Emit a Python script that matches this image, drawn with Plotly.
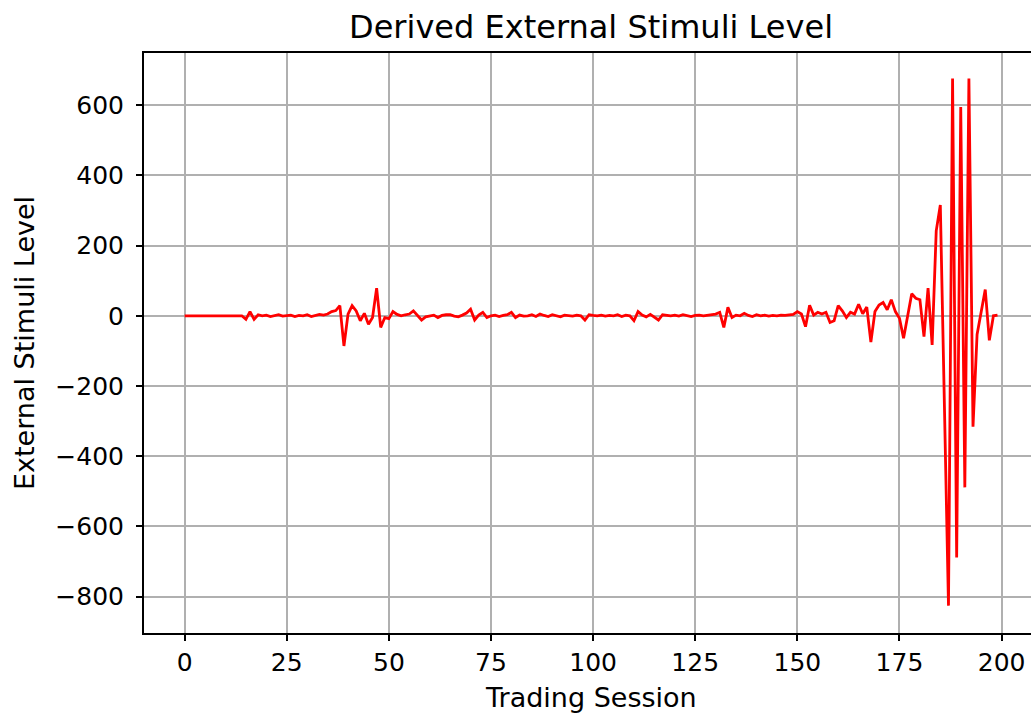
import plotly.graph_objects as go

title_text = "Derived External Stimuli Level"
x_label = "Trading Session"
y_label = "External Stimuli Level"

sessions = list(range(200))

stimuli = [
    0, 0, 0, 0, 0, 0, 0, 0, 0, 0,
    0, 0, 0, 0, 0, -10, 12, -10, 3, 0,
    2, -2, 1, 3, -1, 0, 2, -2, 1, 0,
    3, -2, 1, 4, 2, 5, 12, 15, 29, -86,
    5, 29, 14, -14, 7, -24, -5, 79, -33, -5,
    -8, 12, 4, 0, 3, 5, 14, 2, -12, -3,
    0, 2, -5, 1, 3, 3, -1, -3, 2, 8,
    19, -12, 2, 10, -5, 0, 2, -2, 1, 3,
    10, -5, 2, -1, 0, 3, -2, 5, 1, -2,
    3, 0, -3, 2, 1, -1, 2, 0, -12, 3,
    1, 0, 2, -1, 1, 0, 3, -2, 2, 0,
    -14, 12, 2, -3, 4, -5, -12, 3, 1, 0,
    2, -1, 3, 0, -2, 1, 2, 0, 1, 3,
    5, 10, -33, 24, -5, 2, 0, 7, 1, -2,
    3, 0, 2, -1, 1, 0, 2, 1, 2, 4,
    12, 5, -31, 30, 2, 10, 5, 10, -19, -14,
    29, 14, -5, 10, 5, 33, 6, 25, -75, 12,
    31, 38, 17, 46, 12, -7, -64, -2, 63, 50,
    46, -59, 79, -83, 242, 316, -250, -826, 676, -689,
    595, -489, 676, -316, -53, 10, 75, -70, 0, 2,
]

x_ticks = [0, 25, 50, 75, 100, 125, 150, 175, 200]
y_ticks = [-800, -600, -400, -200, 0, 200, 400, 600]

FONT = "DejaVu Sans"

fig = go.Figure()
fig.add_trace(go.Scatter(
    x=sessions, y=stimuli, mode="lines",
    line=dict(color="#ff0000", width=2.8),
    hoverinfo="skip", showlegend=False,
))

fig.update_layout(
    width=1031, height=714,
    margin=dict(l=144, r=0, t=53, b=81),
    paper_bgcolor="white", plot_bgcolor="white",
    font=dict(family=FONT, color="black"),
    showlegend=False,
)

fig.update_xaxes(
    range=[-9.95, 207.2],
    tickmode="array", tickvals=x_ticks,
    ticks="outside", ticklen=6, tickwidth=2, tickcolor="black",
    tickfont=dict(size=25, family=FONT, color="black"),
    showline=True, linecolor="black", linewidth=2, mirror=True,
    showgrid=True, gridcolor="#b0b0b0", gridwidth=2,
    zeroline=False,
)
fig.update_yaxes(
    range=[-904, 749],
    tickmode="array", tickvals=y_ticks,
    ticks="outside", ticklen=6, tickwidth=2, tickcolor="black",
    tickfont=dict(size=25, family=FONT, color="black"),
    ticklabelstandoff=7,
    showline=True, linecolor="black", linewidth=2, mirror=False,
    showgrid=True, gridcolor="#b0b0b0", gridwidth=2,
    zeroline=False,
)

fig.add_annotation(
    text=title_text, xref="paper", yref="paper",
    x=(591 - 144) / 887, y=(632.7 - 27) / 579.4,
    xanchor="center", yanchor="middle", showarrow=False,
    font=dict(size=32, family=FONT, color="black"),
)
fig.add_annotation(
    text=x_label, xref="paper", yref="paper",
    x=(591 - 144) / 887, y=(632.7 - 697) / 579.4,
    xanchor="center", yanchor="middle", showarrow=False,
    font=dict(size=27, family=FONT, color="black"),
)
fig.add_annotation(
    text=y_label, xref="paper", yref="paper",
    x=(24 - 144) / 887, y=0.5, textangle=-90,
    xanchor="center", yanchor="middle", showarrow=False,
    font=dict(size=27, family=FONT, color="black"),
)

fig.write_html(
    "out.html",
    config={"displayModeBar": False, "staticPlot": True},
    post_script="document.body.style.margin='0';document.body.style.overflow='hidden';",
)
